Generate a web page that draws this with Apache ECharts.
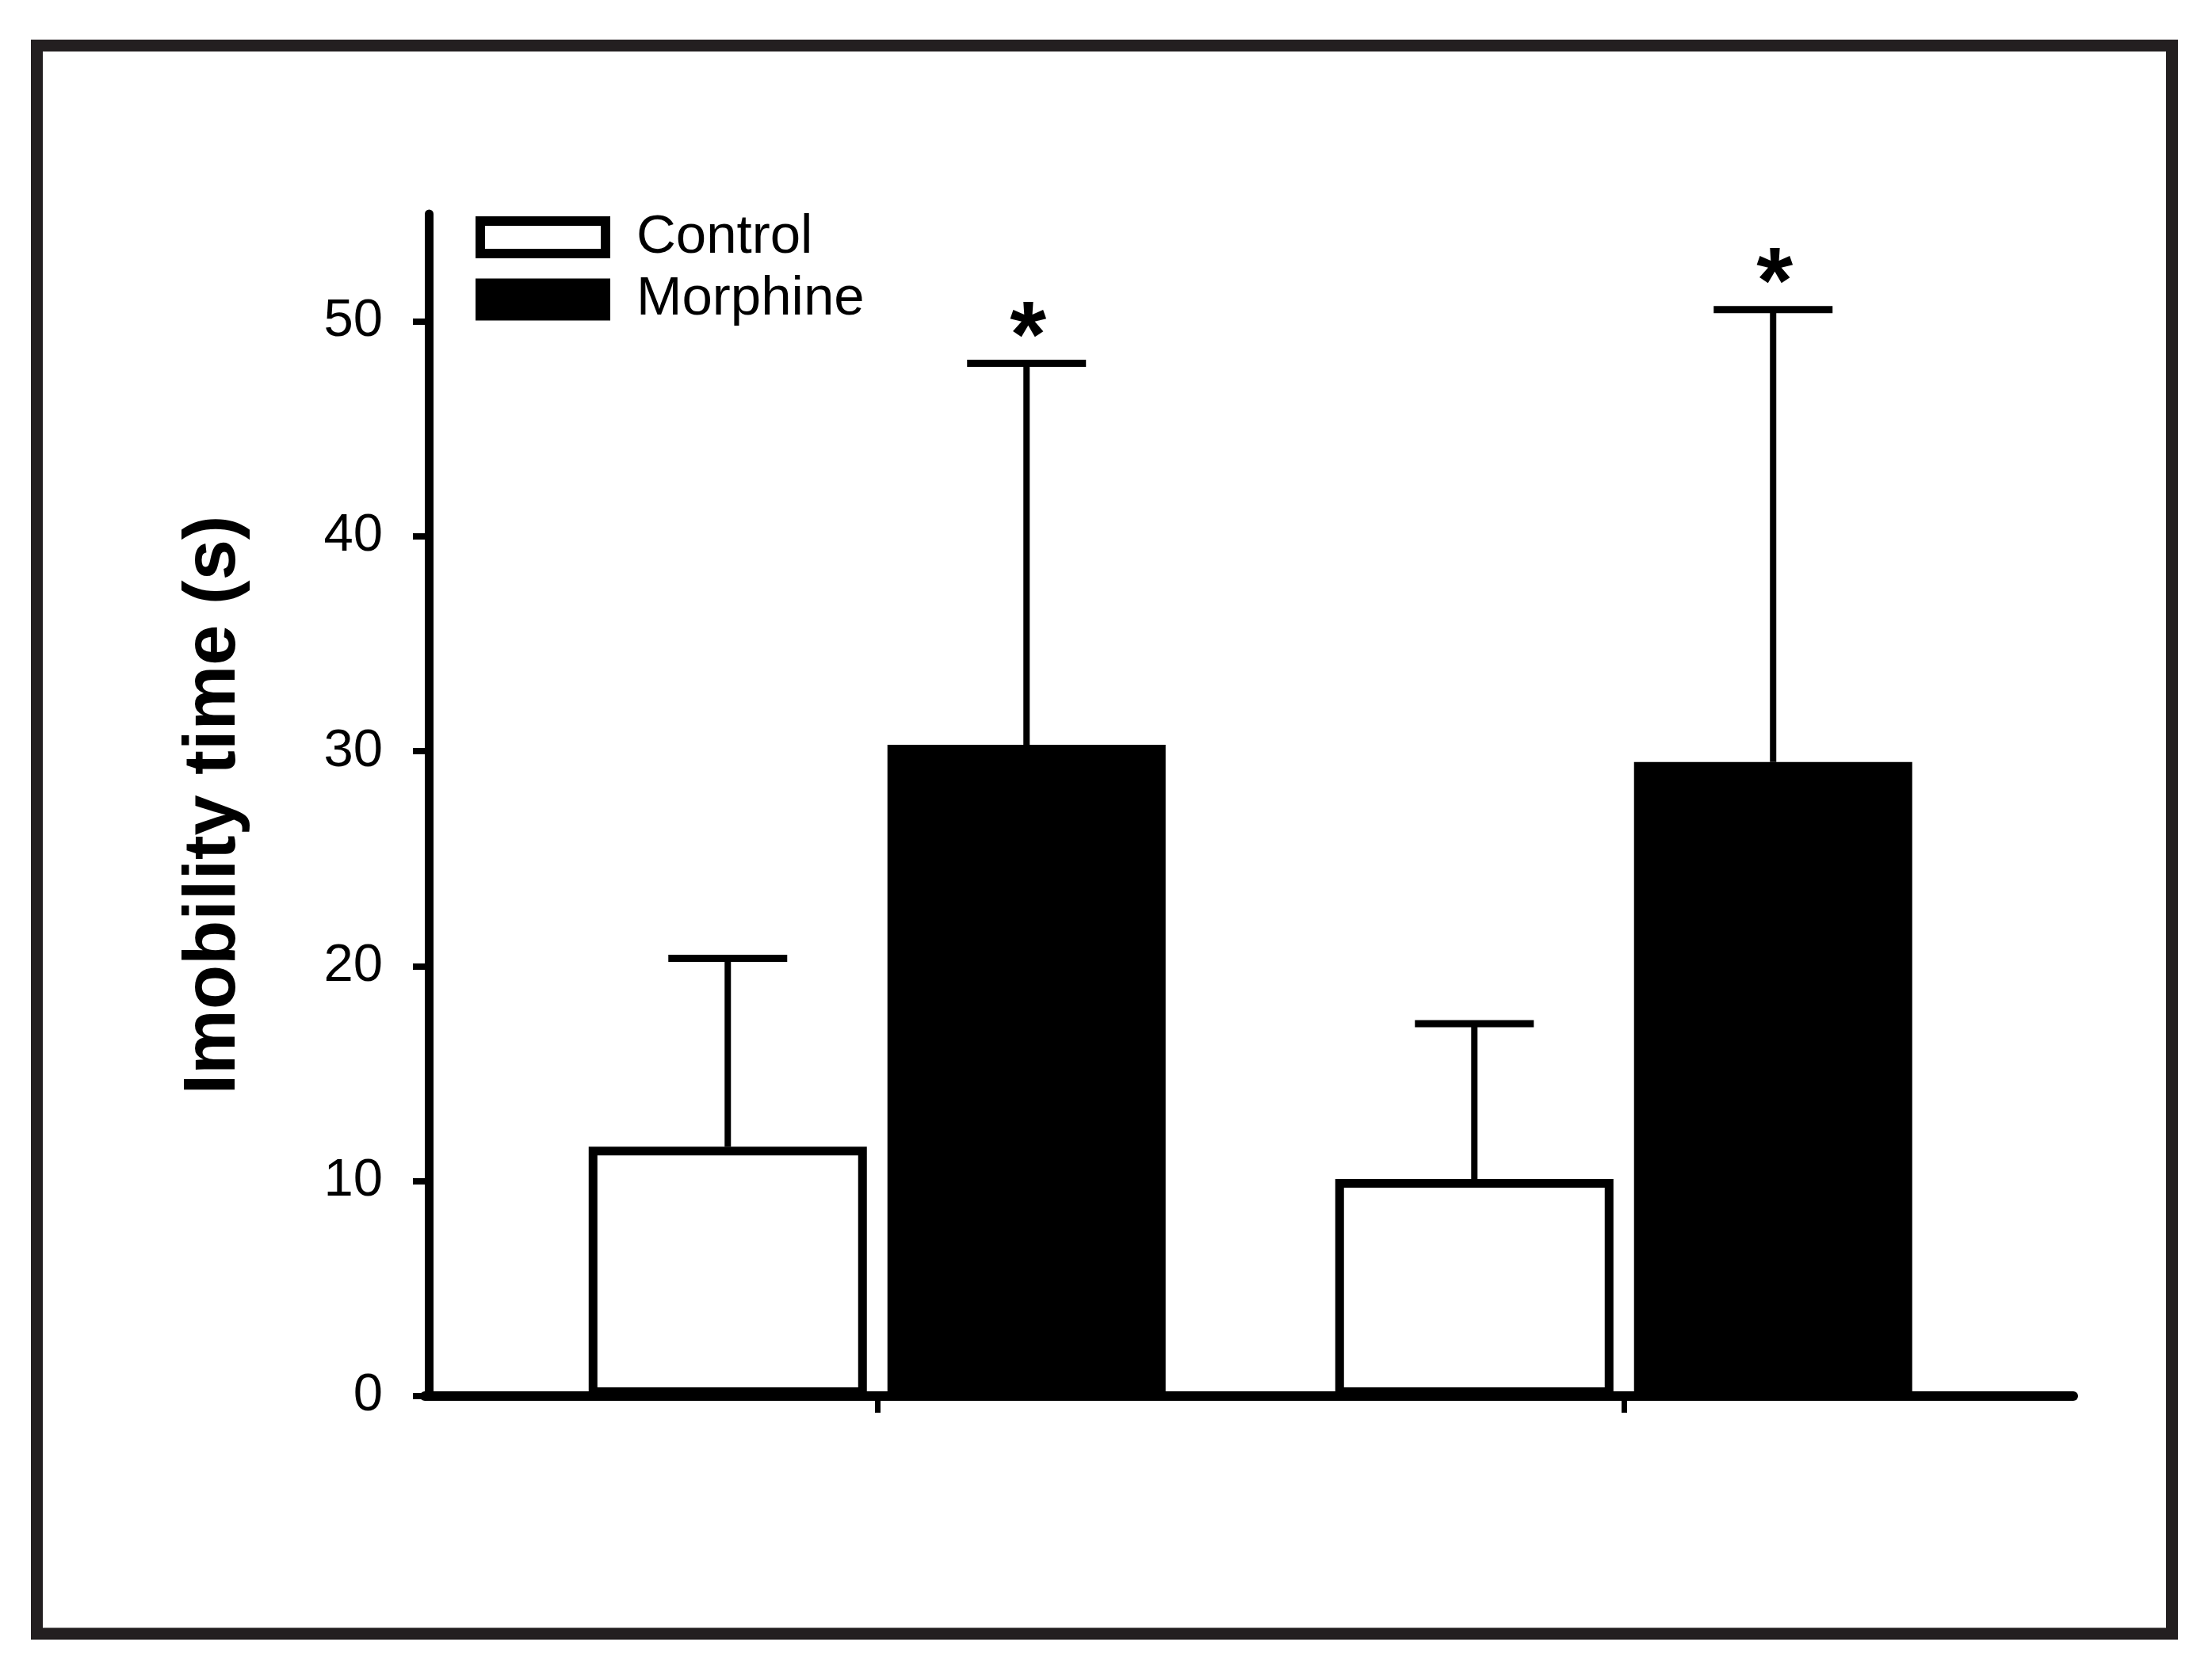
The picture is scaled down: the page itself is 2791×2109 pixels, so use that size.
<!DOCTYPE html>
<html>
<head>
<meta charset="utf-8">
<title>Imobility time</title>
<script src="https://cdn.jsdelivr.net/npm/echarts@6/dist/echarts.min.js"></script>
<style>
  html, body { margin: 0; padding: 0; background: #fff; }
  #chart { width: 2791px; height: 2109px; }
</style>
</head>
<body>
<div id="chart"></div>
<script>
// values
const groups = ['Group 1', 'Group 2'];
const seriesNames = ['Control', 'Morphine'];
const controlMean = [11.6, 10.1];
const controlSem = [8.77, 7.23];
const controlSig = ['', ''];
const morphineMean = [30.3, 29.5];
const morphineSem = [17.75, 21.05];
const morphineSig = ['*', '*'];
const yTicks = [0, 10, 20, 30, 40, 50];
const yMax = 55;

const font = 'Liberation Sans, Arial, Helvetica, sans-serif';
const barWidth = 351;
const barGap = 0.074;
// distance of each bar centre from the group centre
const barOffset = (barWidth + barWidth * barGap) / 2;

const chart = echarts.init(document.getElementById('chart'));

// error bar + significance mark, drawn on the bar's own scale
const errorSeries = (name, means, sems, marks, side) => ({
  type: 'custom',
  name: name + ' SEM',
  xAxisIndex: 0,
  yAxisIndex: 0,
  z: 1,
  data: means.map((m, i) => [i, m, m + sems[i], marks[i]]),
  renderItem: (params, api) => {
    const base = api.coord([api.value(0), api.value(1)]);
    const top = api.coord([api.value(0), api.value(2)]);
    const x = base[0] + side * barOffset;
    const capHalf = 75;
    const children = [
      {
        type: 'line',
        shape: { x1: x, y1: base[1], x2: x, y2: top[1] },
        style: { stroke: '#000', lineWidth: 8 }
      },
      {
        type: 'line',
        shape: { x1: x - capHalf, y1: top[1], x2: x + capHalf, y2: top[1] },
        style: { stroke: '#000', lineWidth: 9 }
      }
    ];
    const mark = marks[params.dataIndex];
    if (mark) {
      children.push({
        type: 'text',
        style: {
          text: mark,
          x: x + 2,
          y: top[1] - 28,
          align: 'center',
          verticalAlign: 'middle',
          font: 'bold 118px ' + font,
          fill: '#000'
        }
      });
    }
    return { type: 'group', children: children };
  }
});

const option = {
  backgroundColor: '#fff',
  animation: false,
  graphic: [
    {
      type: 'rect',
      shape: { x: 46.5, y: 57.5, width: 2694, height: 2004.5 },
      style: { fill: 'none', stroke: '#231f20', lineWidth: 15 },
      z: 100
    }
  ],
  legend: {
    orient: 'vertical',
    left: 600,
    top: 265,
    padding: 0,
    itemWidth: 158,
    itemHeight: 41,
    itemGap: 9.5,
    icon: 'rect',
    textStyle: {
      fontFamily: font,
      fontSize: 69,
      color: '#000',
      padding: [0, 0, 0, 34]
    },
    data: [
      { name: seriesNames[0], itemStyle: { color: '#fff', borderColor: '#000', borderWidth: 12 } },
      { name: seriesNames[1], itemStyle: { color: '#000', borderColor: '#000', borderWidth: 12 } }
    ]
  },
  grid: [
    { left: 635.75, right: 271.25, top: 270, bottom: 347 },
    // only carries the long x axis line
    { left: 536, right: 175, top: 270, bottom: 347 }
  ],
  xAxis: [
    {
      type: 'category',
      gridIndex: 0,
      data: groups,
      axisLine: { show: false },
      axisTick: {
        show: true,
        alignWithLabel: true,
        length: 21,
        lineStyle: { color: '#000', width: 7 }
      },
      axisLabel: { show: false },
      splitLine: { show: false }
    },
    {
      type: 'value',
      gridIndex: 1,
      min: 0,
      max: 1,
      axisLine: { show: true, onZero: false, lineStyle: { color: '#000', width: 12 } },
      axisTick: { show: false },
      axisLabel: { show: false },
      splitLine: { show: false }
    }
  ],
  yAxis: [
    {
      type: 'value',
      gridIndex: 0,
      min: 0,
      max: yMax,
      interval: 10,
      offset: 94.75,
      name: 'Imobility time (s)',
      nameLocation: 'middle',
      nameRotate: 90,
      nameGap: 224,
      nameTextStyle: {
        fontFamily: font,
        fontSize: 92,
        fontWeight: 'bold',
        color: '#000'
      },
      axisLine: { show: true, lineStyle: { color: '#000', width: 11 } },
      axisTick: {
        show: true,
        length: 20,
        customValues: yTicks,
        lineStyle: { color: '#000', width: 8 }
      },
      axisLabel: {
        customValues: yTicks,
        margin: 58,
        fontFamily: font,
        fontSize: 67,
        color: '#000'
      },
      splitLine: { show: false }
    },
    {
      type: 'value',
      gridIndex: 1,
      min: 0,
      max: yMax,
      show: false
    }
  ],
  series: [
    {
      name: seriesNames[0],
      type: 'bar',
      xAxisIndex: 0,
      yAxisIndex: 0,
      barWidth: barWidth,
      barGap: (barGap * 100) + '%',
      z: 2,
      itemStyle: { color: '#fff', borderColor: '#000', borderWidth: 11 },
      data: controlMean
    },
    {
      name: seriesNames[1],
      type: 'bar',
      xAxisIndex: 0,
      yAxisIndex: 0,
      barWidth: barWidth,
      barGap: (barGap * 100) + '%',
      z: 2,
      itemStyle: { color: '#000', borderColor: '#000', borderWidth: 11 },
      data: morphineMean
    },
    errorSeries(seriesNames[0], controlMean, controlSem, controlSig, -1),
    errorSeries(seriesNames[1], morphineMean, morphineSem, morphineSig, 1)
  ]
};

chart.setOption(option);
</script>
</body>
</html>
